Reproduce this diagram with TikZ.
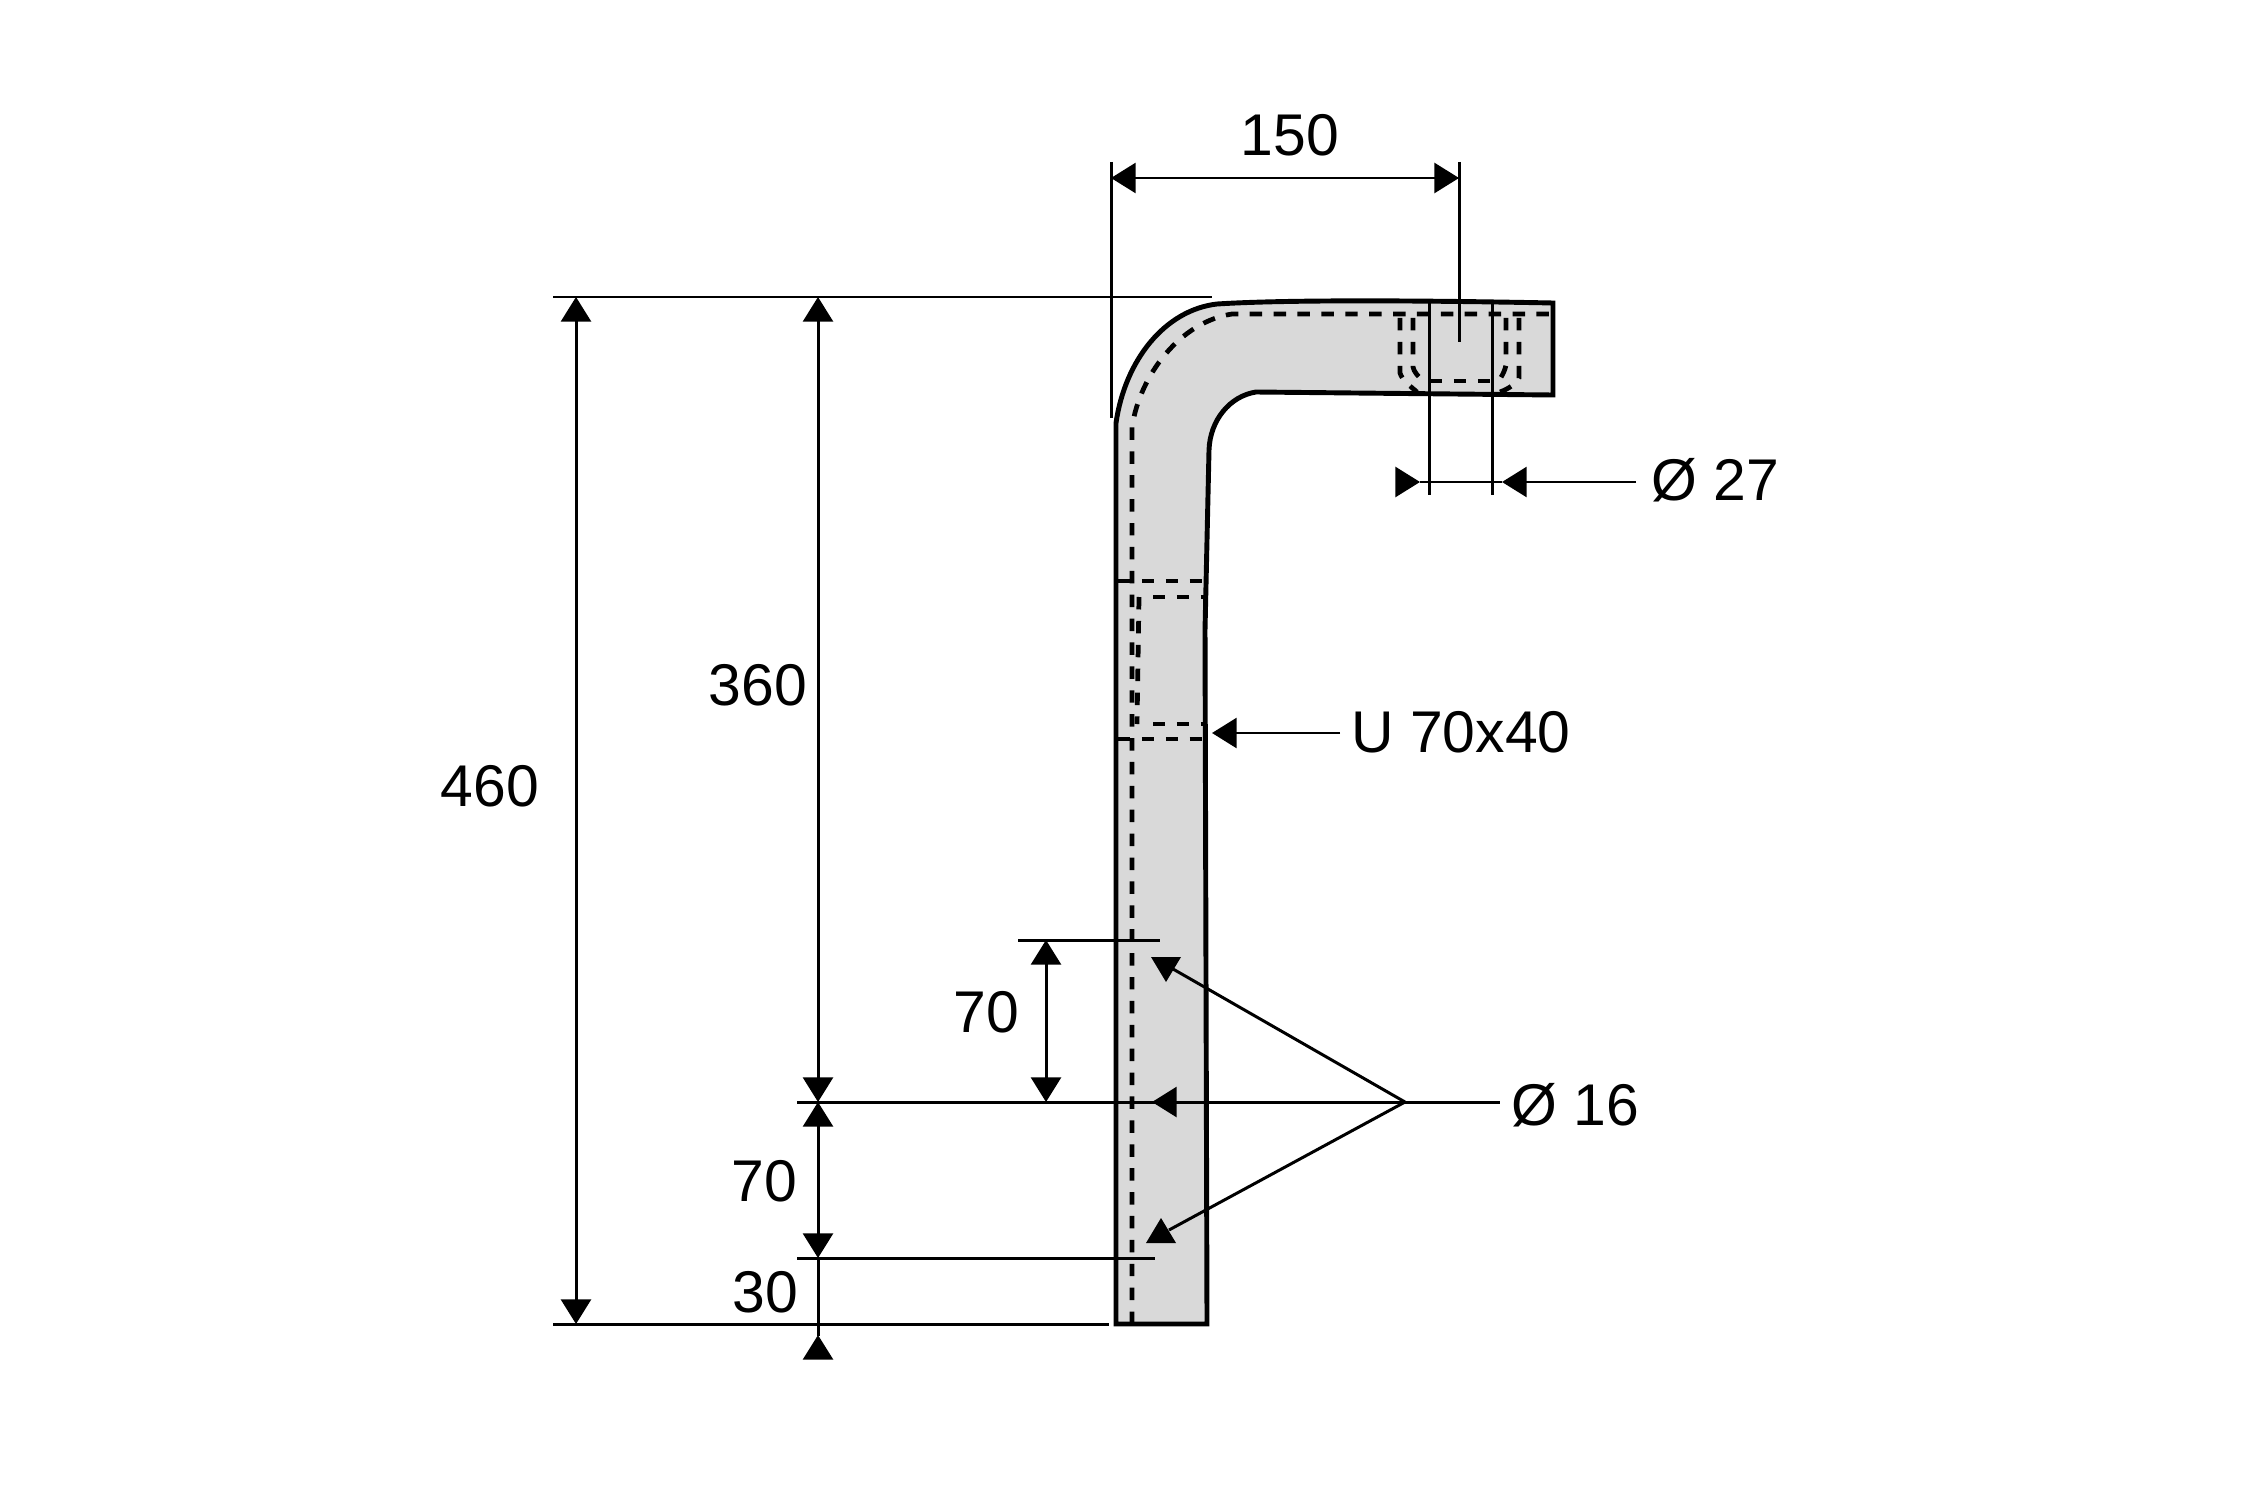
\documentclass[tikz,border=0pt]{standalone}
\usepackage{fontspec}
\setmainfont{Liberation Sans}
\usetikzlibrary{arrows.meta}
\definecolor{bargray}{HTML}{D9D9D9}
\tikzset{
  outline/.style={line width=2.8pt, fill=bargray, line join=miter},
  hidden/.style={line width=2.7pt, dash pattern=on 7.1pt off 6.5pt},
  dimline/.style={line width=1.7pt},
  label/.style={inner sep=0pt, anchor=base, font=\fontsize{33.5}{40}\selectfont}
}
\begin{document}
\begin{tikzpicture}[x=0.02cm, y=-0.02cm, >={Triangle[length=14pt, width=17pt]}]
        \useasboundingbox (0,0) rectangle (2250,1500);
        % Bar
        \draw[outline] (1116,1324) -- (1116,423)
          .. controls (1125,360) and (1165,310) .. (1217,304)
          .. controls (1280,300) and (1400,300) .. (1553,303)
          -- (1553,395) -- (1256,392)
          .. controls (1230,396) and (1210,420) .. (1209,450)
          -- (1205,630) -- (1207,1324) -- cycle;
        % Hidden edges
        \draw[hidden] (1132,1324) -- (1132,427)
          .. controls (1140,375) and (1180,322) .. (1232,314) -- (1550,314);
        \draw[hidden] (1118,581) -- (1204,581);
        \draw[hidden] (1118,739) -- (1204,739);
        \draw[hidden] (1153,597) -- (1204,597);
        \draw[hidden] (1153,724) -- (1204,724);
        \draw[hidden] (1139,597) -- (1137,724);
        \draw[hidden] (1400,318) -- (1400,373) .. controls (1402,380) and (1410,386) .. (1417,392);
        \draw[hidden] (1413,318) -- (1413,367) .. controls (1414,372) and (1418,376) .. (1421,379);
        \draw[hidden] (1430,381) -- (1492,381);
        \draw[hidden] (1506,318) -- (1506,365) .. controls (1505,370) and (1503,374) .. (1500,379);
        \draw[hidden] (1519,318) -- (1519,378) .. controls (1516,384) and (1508,389) .. (1500,392);
        % Anchor points
        \coordinate (TOPL) at (553,297);
        \coordinate (TOPR) at (1212,297);
        \coordinate (BOTL) at (553,1324);
        \coordinate (BOTR) at (1109,1324);
        \coordinate (MIDL) at (797,1102);
        \coordinate (JCT) at (1405,1102);
        \coordinate (MIDR) at (1500,1102);
        \coordinate (LOWL) at (797,1258);
        \coordinate (LOWR) at (1155,1258);
        \coordinate (UPL) at (1018,940);
        \coordinate (UPR) at (1160,940);
        % Labels
        \node[label] (L150) at (1290,156) {150};
        \node[label] (L360) at (758,705) {360};
        \node[label] (L460) at (490,806) {460};
        \node[label] (L70A) at (986,1032) {70};
        \node[label] (L70B) at (764,1201) {70};
        \node[label] (L30) at (765,1312) {30};
        \node[label] (D27) at (1715,500) {Ø 27};
        \node[label] (U70) at (1461,752) {U 70x40};
        \node[label] (D16) at (1575,1125) {Ø 16};
        % Extension lines
        \draw[dimline] (TOPL) -- (TOPR);
        \draw[dimline] (BOTL) -- (BOTR);
        \draw[dimline] (LOWL) -- (LOWR);
        \draw[dimline] (UPL) -- (UPR);
        \draw[dimline] (MIDL) -- (MIDR);
        \draw[dimline] (1111,162) -- (1111,418);
        \draw[dimline] (1459,162) -- (1459,342);
        \draw[dimline] (1429,302) -- (1429,495);
        \draw[dimline] (1492,302) -- (1492,495);
        % Dimensions
        \draw[dimline, <->] (1111,178) -- (1459,178);
        \draw[dimline, <->] (576,297) -- (576,1324);
        \draw[dimline, <->] (818,297) -- (818,1102);
        \draw[dimline, <->] (818,1102) -- (818,1258);
        \draw[dimline, <->] (1046,940) -- (1046,1102);
        \draw[dimline] (818,1258) -- (818,1336);
        \draw[dimline, ->] (818,1358) -- (818,1335);
        % Hole diameter
        \coordinate (D27L) at (1420,482);
        \coordinate (D27R) at (1502,482);
        \draw[dimline, ->] (1396,482) -- (D27L);
        \draw[dimline] (D27L) -- (D27R);
        \draw[dimline, ->] (1636,482) -- (D27R);
        % Section pointer
        \draw[dimline, ->] (1340,733) -- (1212,733);
        % Pointers to the holes
        \draw[dimline, ->] (JCT) -- (1152,1102);
        \draw[dimline] (JCT) -- (1173,969);
        \draw[dimline] (JCT) -- (1169,1230);
        \fill (1151,957) -- (1181,957) -- (1166,982) -- cycle;
        \fill (1161,1218) -- (1146,1243) -- (1176,1243) -- cycle;
      \end{tikzpicture}
\end{document}
